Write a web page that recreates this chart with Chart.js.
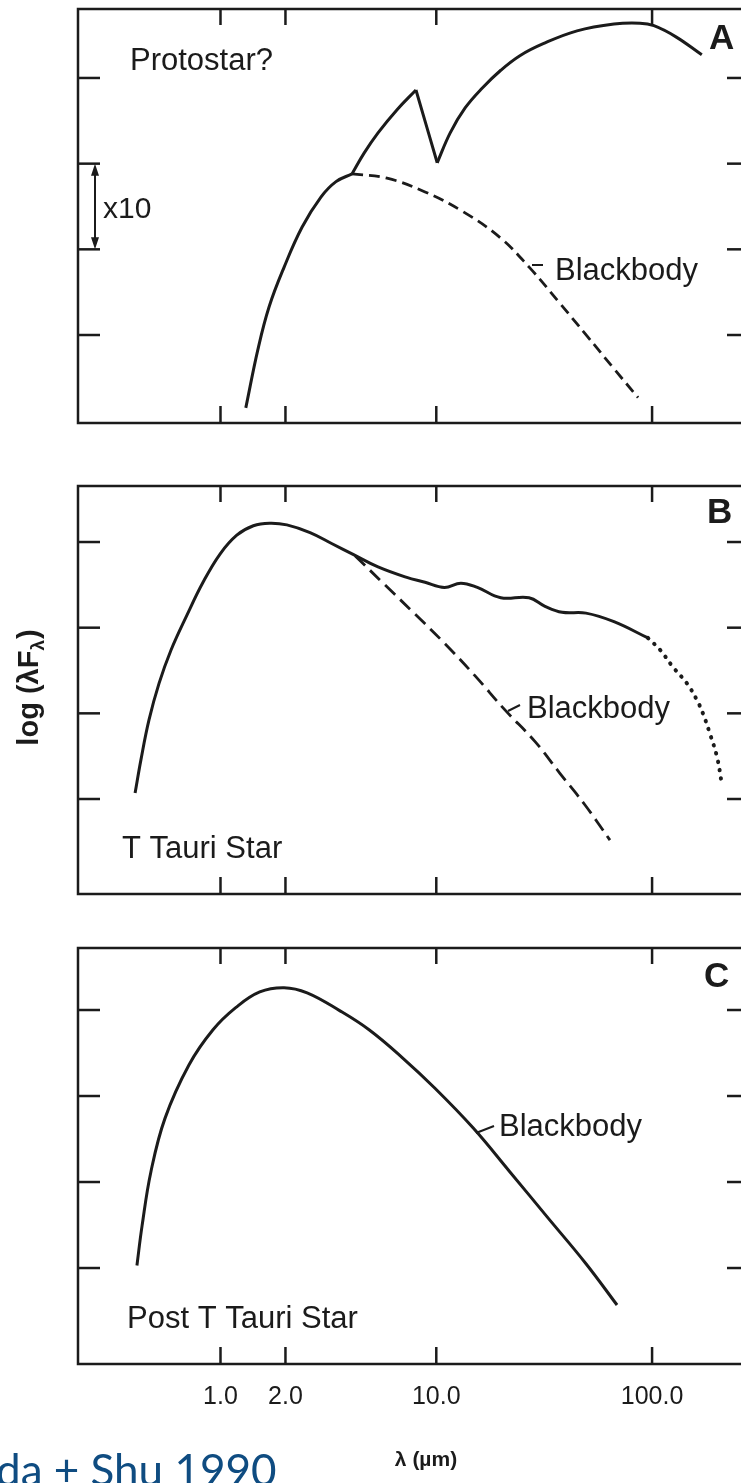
<!DOCTYPE html>
<html>
<head>
<meta charset="utf-8">
<script src="https://cdn.jsdelivr.net/npm/chart.js@4.4.0/dist/chart.umd.min.js"></script>
<style>
  html, body { margin: 0; padding: 0; background: #fff; overflow: hidden; }
  #page { position: relative; width: 741px; height: 1483px; overflow: hidden; background: #fff; }
  #page canvas { position: absolute; left: 0; }
</style>
</head>
<body>
<div id="page">
  <canvas id="panelA" width="760" height="450" style="top:0px"></canvas>
  <canvas id="panelB" width="760" height="450" style="top:460px"></canvas>
  <canvas id="panelC" width="760" height="563" style="top:920px"></canvas>
</div>
<script>
// wavelength in micron, flux as log(lambda F_lambda) in decades (arbitrary zero)
const tickWavelengths = [1, 2, 10, 100];
const tickLabels = ['1.0', '2.0', '10.0', '100.0'];
const decadeTicks = [1, 2, 3, 4];
const lamMin = 0.2186, lamMax = 281.3;

// A: protostar
const protoRiseLam = [1.31, 1.49, 1.68, 1.97, 2.39, 2.92, 3.43, 4.07];
const protoRiseLog = [0.15, 0.83, 1.33, 1.79, 2.26, 2.61, 2.79, 2.88];
const protoBumpLam = [4.07, 4.62, 5.37, 6.58, 8.05];
const protoBumpLog = [2.88, 3.12, 3.36, 3.63, 3.86];
const protoDipLam = [8.05, 10.1];
const protoDipLog = [3.86, 3.01];
const protoFarLam = [10.1, 11.6, 13.6, 16.3, 19.9, 24.4, 31.3, 44.9, 66.6, 87.9, 102, 129, 170];
const protoFarLog = [3.01, 3.36, 3.65, 3.88, 4.09, 4.26, 4.40, 4.55, 4.63, 4.64, 4.61, 4.48, 4.27];
const protoBBLam = [4.07, 5.91, 8.87, 13.3, 19.9, 27.2, 37.4, 49.9, 65.9, 86.1];
const protoBBLog = [2.88, 2.83, 2.67, 2.44, 2.13, 1.78, 1.37, 0.99, 0.62, 0.27];

// B: T Tauri star
const ttauriLam = [0.402, 0.428, 0.466, 0.519, 0.590, 0.700, 0.830, 0.995, 1.19, 1.42, 1.69, 2.03, 2.60, 3.29, 4.16,
                   5.37, 7.24, 8.87, 10.9, 13.0, 15.5, 19.9, 26.9, 31.9, 38.3, 49.4, 66.6, 95.7];
const ttauriLog = [1.07, 1.46, 1.92, 2.35, 2.74, 3.15, 3.53, 3.86, 4.08, 4.19, 4.22, 4.20, 4.11, 3.98, 3.85,
                   3.71, 3.59, 3.53, 3.47, 3.52, 3.47, 3.35, 3.35, 3.25, 3.18, 3.17, 3.07, 2.88];
const ttauriTailLam = [95.7, 109, 125, 145, 161, 172, 185, 200, 211];
const ttauriTailLog = [2.88, 2.74, 2.54, 2.35, 2.16, 2.00, 1.77, 1.49, 1.16];
const ttauriBBLam = [4.20, 5.78, 7.96, 11.0, 15.1, 20.8, 28.7, 37.4, 48.9, 63.8];
const ttauriBBLog = [3.84, 3.50, 3.16, 2.81, 2.44, 2.04, 1.67, 1.30, 0.93, 0.52];

// C: post T Tauri star
const postLam = [0.410, 0.433, 0.476, 0.553, 0.714, 0.923, 1.18, 1.52, 1.97, 2.52, 3.58, 4.88, 6.93, 9.86, 14.8, 21.9, 33.0, 49.4, 68.8];
const postLog = [1.03, 1.49, 2.12, 2.74, 3.36, 3.77, 4.03, 4.21, 4.26, 4.20, 3.99, 3.77, 3.45, 3.09, 2.63, 2.12, 1.58, 1.05, 0.57];

const ink = '#1b1b1b';
const sans = '"Liberation Sans", Arial, Helvetica, sans-serif';

function pts(lams, logs) {
  return lams.map((l, i) => ({ x: l, y: logs[i] }));
}

function curve(lams, logs, extra) {
  return Object.assign({
    data: pts(lams, logs),
    borderColor: ink,
    borderWidth: 3,
    pointRadius: 0,
    fill: false,
    tension: 0.4
  }, extra || {});
}

function seg(ctx, x1, y1, x2, y2) {
  ctx.beginPath();
  ctx.moveTo(x1, y1);
  ctx.lineTo(x2, y2);
  ctx.stroke();
}

// box, inward ticks, panel letter and the text notes
function frame(cfg) {
  return {
    id: 'frame',
    afterDatasetsDraw(chart) {
      const { ctx, chartArea: a } = chart;
      const x = chart.scales.x, y = chart.scales.y;
      ctx.save();
      ctx.strokeStyle = ink;
      ctx.lineWidth = 2.5;
      ctx.strokeRect(a.left, a.top, a.right - a.left, a.bottom - a.top);
      tickWavelengths.forEach(v => {
        const px = x.getPixelForValue(v);
        seg(ctx, px, a.top, px, a.top + 16);
        seg(ctx, px, a.bottom, px, a.bottom - 17);
      });
      decadeTicks.forEach(v => {
        const py = y.getPixelForValue(v);
        seg(ctx, a.left, py, a.left + 22, py);
        seg(ctx, a.right, py, a.right - 22, py);
      });
      ctx.fillStyle = ink;
      ctx.textBaseline = 'alphabetic';
      ctx.font = 'bold 35px ' + sans;
      ctx.fillText(cfg.letter[0], cfg.letter[1], cfg.letter[2]);
      ctx.font = '31px ' + sans;
      cfg.notes.forEach(n => ctx.fillText(n[0], n[1], n[2]));
      ctx.lineWidth = 2;
      seg(ctx, cfg.leader[0], cfg.leader[1], cfg.leader[2], cfg.leader[3]);
      if (cfg.after) cfg.after(chart, ctx);
      ctx.restore();
    }
  };
}

function options(yMin, yMax, padding) {
  return {
    responsive: false,
    animation: false,
    events: [],
    layout: { padding: padding },
    scales: {
      x: { type: 'logarithmic', min: lamMin, max: lamMax, display: false },
      y: { type: 'linear', min: yMin, max: yMax, display: false }
    },
    plugins: { legend: { display: false }, tooltip: { enabled: false } }
  };
}

// x10 scale bar between two decade ticks
function drawArrow(chart, ctx) {
  const y = chart.scales.y;
  const ax = chart.chartArea.left + 17;
  const y1 = y.getPixelForValue(3), y2 = y.getPixelForValue(2);
  ctx.lineWidth = 2;
  seg(ctx, ax, y1 + 8, ax, y2 - 8);
  ctx.beginPath();
  ctx.moveTo(ax, y1); ctx.lineTo(ax - 4, y1 + 12); ctx.lineTo(ax + 4, y1 + 12); ctx.closePath();
  ctx.moveTo(ax, y2); ctx.lineTo(ax - 4, y2 - 12); ctx.lineTo(ax + 4, y2 - 12); ctx.closePath();
  ctx.fill();
  ctx.font = '30px ' + sans;
  ctx.fillText('x10', 103, 218);
}

// y title, drawn beside the middle panel
function drawYTitle(chart, ctx) {
  ctx.save();
  ctx.translate(38, 228);
  ctx.rotate(-Math.PI / 2);
  ctx.textBaseline = 'alphabetic';
  const big = 'bold 29px ' + sans, small = 'bold 19px ' + sans;
  ctx.font = big;
  const main = 'log (\u03bbF';
  const w1 = ctx.measureText(main).width;
  const w3 = ctx.measureText(')').width;
  ctx.font = small;
  const w2 = ctx.measureText('\u03bb').width;
  const x0 = -(w1 + w2 + w3) / 2;
  ctx.font = big;
  ctx.fillText(main, x0, 0);
  ctx.fillText(')', x0 + w1 + w2 + 1, 0);
  ctx.font = small;
  ctx.fillText('\u03bb', x0 + w1, 6);
  ctx.restore();
}

// wavelength tick labels and axis title under the last panel
function drawXAxis(chart, ctx) {
  const x = chart.scales.x;
  ctx.font = '25px ' + sans;
  ctx.textAlign = 'center';
  ctx.textBaseline = 'middle';
  tickWavelengths.forEach((v, i) => ctx.fillText(tickLabels[i], x.getPixelForValue(v), 477));
  ctx.font = 'bold 21px ' + sans;
  ctx.fillText('\u03bb (\u00b5m)', 426, 540);
  ctx.textAlign = 'left';
  ctx.textBaseline = 'alphabetic';
  ctx.fillStyle = '#0f4c81';
  ctx.font = '44px Lato, "Open Sans", sans-serif';
  ctx.fillText('da + Shu 1990', -4, 566);
}

new Chart(document.getElementById('panelA'), {
  type: 'line',
  data: {
    datasets: [
      curve(protoRiseLam, protoRiseLog),
      curve(protoBumpLam, protoBumpLog),
      curve(protoDipLam, protoDipLog),
      curve(protoFarLam, protoFarLog),
      curve(protoBBLam, protoBBLog, { borderDash: [11, 6], borderWidth: 2.8 })
    ]
  },
  options: options(-0.027, 4.805, { left: 78, top: 9, right: 11, bottom: 27 }),
  plugins: [frame({
    letter: ['A', 709, 49],
    notes: [['Protostar?', 130, 70], ['Blackbody', 555, 280]],
    leader: [532, 265, 543, 265],
    after: drawArrow
  })]
});

new Chart(document.getElementById('panelB'), {
  type: 'line',
  data: {
    datasets: [
      curve(ttauriLam, ttauriLog),
      curve(ttauriTailLam, ttauriTailLog, { borderDash: [0.5, 8], borderCapStyle: 'round', borderWidth: 4 }),
      curve(ttauriBBLam, ttauriBBLog, { borderDash: [14, 7], borderWidth: 2.8 })
    ]
  },
  options: options(-0.109, 4.654, { left: 78, top: 26, right: 11, bottom: 16 }),
  plugins: [frame({
    letter: ['B', 707, 63],
    notes: [['T Tauri Star', 122, 398], ['Blackbody', 527, 258]],
    leader: [508, 251, 520, 245],
    after: drawYTitle
  })]
});

new Chart(document.getElementById('panelC'), {
  type: 'line',
  data: { datasets: [curve(postLam, postLog)] },
  options: options(-0.116, 4.721, { left: 78, top: 28, right: 11, bottom: 119 }),
  plugins: [frame({
    letter: ['C', 704, 67],
    notes: [['Post T Tauri Star', 127, 408], ['Blackbody', 499, 216]],
    leader: [476, 213, 494, 206],
    after: drawXAxis
  })]
});
</script>
</body>
</html>
